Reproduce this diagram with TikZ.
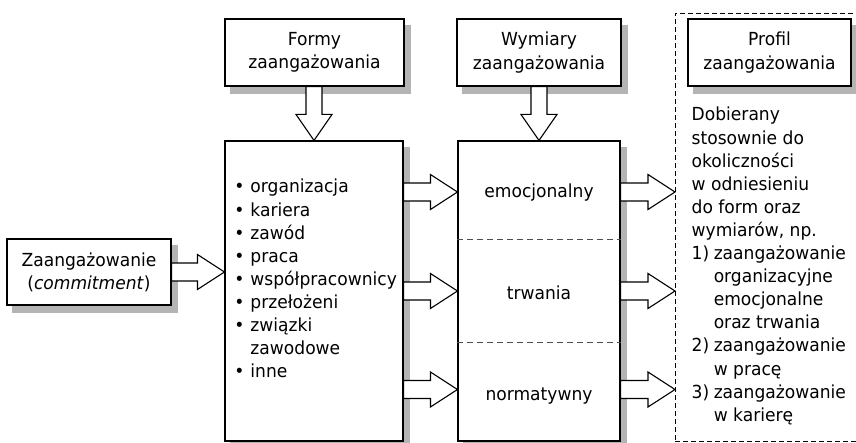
\documentclass[tikz,border=0pt]{standalone}
\usepackage{fontspec}
\setmainfont[FakeStretch=0.95]{DejaVu Sans}
\usetikzlibrary{calc}
\definecolor{shadowc}{RGB}{180,180,180}

% horizontal block arrow: from the x of #1 to the tip #2
\newcommand\hblock[2]{%
  \draw[barrow] let \p1=(#1), \p2=(#2) in
    (\x1,\y2+9) -- (\x2-27,\y2+9) -- (\x2-27,\y2+17.5) -- (\x2,\y2)
    -- (\x2-27,\y2-17.5) -- (\x2-27,\y2-9) -- (\x1,\y2-9) -- cycle;}
% vertical block arrow: from the y of #1 down to the tip #2
\newcommand\vblock[2]{%
  \draw[barrow] let \p1=(#1), \p2=(#2) in
    (\x2+8,\y1) -- (\x2+8,\y2+26) -- (\x2+18,\y2+26) -- (\x2,\y2)
    -- (\x2-18,\y2+26) -- (\x2-8,\y2+26) -- (\x2-8,\y1) -- cycle;}
% grey shadow strips along the right and lower sides of a box
\newcommand\boxshadow[1]{%
  \fill[shadowc] ($(#1.north east)+(0.55,7)$) rectangle ($(#1.south east)+(6,7)$);
  \fill[shadowc] ($(#1.south west)+(6,0.55)$) rectangle ($(#1.south east)+(6,7)$);}

\begin{document}
\begin{tikzpicture}[x=1pt,y=-1pt,
  font=\fontsize{18}{23.1}\selectfont,
  box/.style={draw, line width=1.1pt, fill=white, inner sep=0pt, align=center},
  barrow/.style={draw, line width=1.1pt, fill=white, line join=miter},
  sepline/.style={draw=black!70, line width=1pt, dash pattern=on 6pt off 4pt},
  frame/.style={draw, line width=0.9pt, dash pattern=on 5pt off 3pt, inner sep=0pt},
  txt/.style={inner sep=0pt, anchor=base},
]
\useasboundingbox (0,0) rectangle (856,443);

% dashed frame round the profile column
\node[frame, anchor=north west, minimum width=195pt, minimum height=428pt] (frame) at (675,13) {};

% header boxes
\node[box, minimum width=179pt, minimum height=67pt] (formy) at (314.5,52.5) {Formy\\zaangażowania};
\node[box, minimum width=164pt, minimum height=67pt] (wym) at (539,52.5) {Wymiary\\zaangażowania};
\node[box, minimum width=163pt, minimum height=67pt] (prof) at (769.5,52.5) {Profil\\zaangażowania};

% source box
\node[box, minimum width=164pt, minimum height=66pt] (zaang) at (89,272) {Zaangażowanie\\(\textit{commitment})};

% forms and dimensions
\node[box, minimum width=178pt, minimum height=300pt] (list) at (314,291) {};
\node[box, minimum width=162pt, minimum height=300pt] (dims) at (539,291) {};

% shadows of the boxes
\boxshadow{formy}
\boxshadow{wym}
\boxshadow{prof}
\boxshadow{zaang}
\boxshadow{list}
\boxshadow{dims}

\coordinate (s1) at (0,240);
\coordinate (s2) at (0,342);
\draw[sepline] (dims.west |- s1) -- (dims.east |- s1);
\draw[sepline] (dims.west |- s2) -- (dims.east |- s2);

\node[txt] (emo) at (539,198) {emocjonalny};
\node[txt] (trw) at (539,300) {trwania};
\node[txt] (nor) at (539,400) {normatywny};

\node[txt, anchor=base west] (items) at (234.2,193) {%
  \begin{tabular}[t]{@{}l@{\hspace{6pt}}l@{}}
  \textbullet & organizacja\\
  \textbullet & kariera\\
  \textbullet & zawód\\
  \textbullet & praca\\
  \textbullet & współpracownicy\\
  \textbullet & przełożeni\\
  \textbullet & związki\\
              & zawodowe\\
  \textbullet & inne
  \end{tabular}};

\node[txt, anchor=base west] (proftxt) at (691.5,121) {%
  \begin{tabular}[t]{@{}l@{\hspace{4.5pt}}l@{}}
  \multicolumn{2}{@{}l@{}}{Dobierany}\\
  \multicolumn{2}{@{}l@{}}{stosownie do}\\
  \multicolumn{2}{@{}l@{}}{okoliczności}\\
  \multicolumn{2}{@{}l@{}}{w odniesieniu}\\
  \multicolumn{2}{@{}l@{}}{do form oraz}\\
  \multicolumn{2}{@{}l@{}}{wymiarów, np.}\\
  1) & zaangażowanie\\
     & organizacyjne\\
     & emocjonalne\\
     & oraz trwania\\
  2) & zaangażowanie\\
     & w pracę\\
  3) & zaangażowanie\\
     & w karierę
  \end{tabular}};

% arrow rows
\coordinate (r1) at (0,192);
\coordinate (r2) at (0,291);
\coordinate (r3) at (0,389.5);

% block arrows
\vblock{formy.south}{list.north}
\vblock{wym.south}{dims.north}
\hblock{zaang.east}{list.west |- zaang.east}
\hblock{list.east}{dims.west |- r1}
\hblock{list.east}{dims.west |- r2}
\hblock{list.east}{dims.west |- r3}
\hblock{dims.east}{frame.west |- r1}
\hblock{dims.east}{frame.west |- r2}
\hblock{dims.east}{frame.west |- r3}
\end{tikzpicture}
\end{document}
